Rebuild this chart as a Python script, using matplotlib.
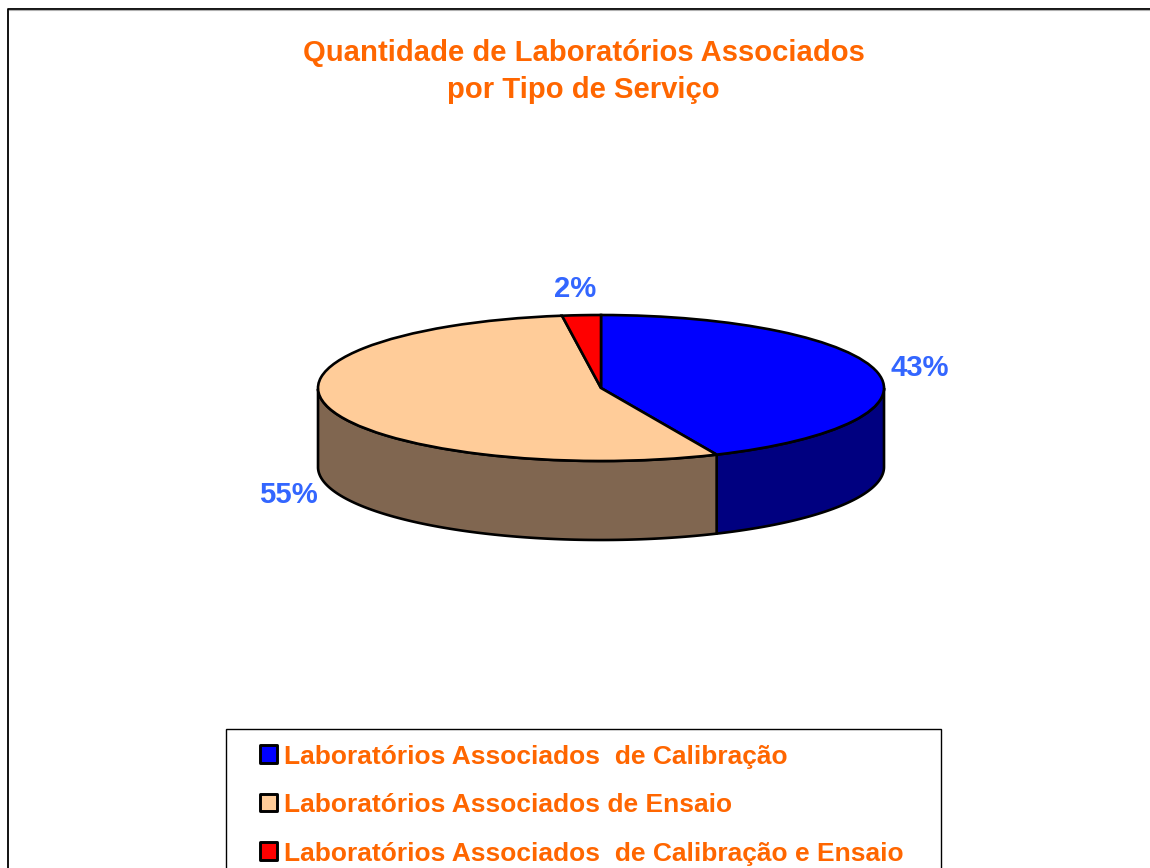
import numpy as np
import matplotlib
matplotlib.use("Agg")
import matplotlib.pyplot as plt
from matplotlib.patches import Rectangle, Polygon

W, H = 1150, 868
title_lines = ["Quantidade de Laboratórios Associados", "por Tipo de Serviço"]
categories = ["Laboratórios Associados  de Calibração",
              "Laboratórios Associados de Ensaio",
              "Laboratórios Associados  de Calibração e Ensaio"]
values = [43.3, 54.5, 2.2]
pct_labels = ["43%", "55%", "2%"]
top_colors = ["#0000FF", "#FFCC99", "#FF0000"]
side_colors = ["#000080", "#806650", "#800000"]
ORANGE = "#FF6600"
LABEL = "#3366FF"
FONT = ["Liberation Sans", "DejaVu Sans"]

plt.rcParams["font.family"] = FONT
fig = plt.figure(figsize=(W / 100, H / 100), dpi=100)
fig.patch.set_facecolor("white")

def box(x0, y0, x1, y1):
    return [x0 / W, 1 - y1 / H, (x1 - x0) / W, (y1 - y0) / H]

# overlay in pixel units for frame / legend
ov = fig.add_axes([0, 0, 1, 1], zorder=0)
ov.set_xlim(0, W); ov.set_ylim(H, 0); ov.axis("off")
ov.plot([7.5, 7.5, W], [H, 8.5, 8.5], color="black", lw=1.3, solid_capstyle="butt")
ov.plot([8.5, W], [9.8, 9.8], color="#b0b0b0", lw=0.8)

# pie top drawn by ax.pie, stretched to an ellipse
cx, cy, rx, ry, depth = 601, 388, 283, 73, 79
ax = fig.add_axes(box(cx - rx, cy - ry, cx + rx, cy + ry), zorder=2)
ax.pie(values, colors=top_colors, startangle=90, counterclock=False, radius=1,
       wedgeprops=dict(edgecolor="black", linewidth=1.9))
ax.set_aspect("auto")
ax.set_xlim(-1, 1); ax.set_ylim(-1, 1)
for p in ax.patches:
    p.set_zorder(5)
    p.set_clip_on(False)

# side walls from the same values
d = depth / ry
frac = np.cumsum([0] + values) / sum(values)
for i, col in enumerate(side_colors):
    a0 = np.pi / 2 - 2 * np.pi * frac[i]
    a1 = np.pi / 2 - 2 * np.pi * frac[i + 1]
    t = np.linspace(a0, a1, 200)
    t = t[np.sin(t) <= 0]
    if t.size < 2:
        continue
    x, y = np.cos(t), np.sin(t)
    pts = np.r_[np.c_[x, y], np.c_[x, y - d][::-1]]
    ax.add_patch(Polygon(pts, closed=True, facecolor=col, edgecolor="black",
                         linewidth=1.9, clip_on=False, zorder=3, joinstyle="round"))

# title
fig.text(583.5 / W, 1 - 53 / H, title_lines[0], color=ORANGE, fontsize=21.1, fontweight="bold",
         ha="center", va="center")
fig.text(583.5 / W, 1 - 90 / H, title_lines[1], color=ORANGE, fontsize=21.1, fontweight="bold",
         ha="center", va="center")

# percentage labels
for txt, x, y in zip(pct_labels, [919.5, 288, 575.5], [368, 495, 289]):
    fig.text(x / W, 1 - y / H, txt, color=LABEL, fontsize=21.1, fontweight="bold",
             ha="center", va="center")

# legend
ov.add_patch(Rectangle((226, 729), 714.5, 160, facecolor="white", edgecolor="black", lw=1))
for name, col, y in zip(categories, top_colors, [757, 805.5, 854]):
    ov.add_patch(Rectangle((259.5, y - 12), 17, 17.5, facecolor=col, edgecolor="black", lw=2.1,
                           zorder=3, joinstyle="round"))
    ov.text(284, y, name, color=ORANGE, fontsize=19.03, fontweight="bold", va="center", ha="left")

fig.savefig("out.png", dpi=100)
